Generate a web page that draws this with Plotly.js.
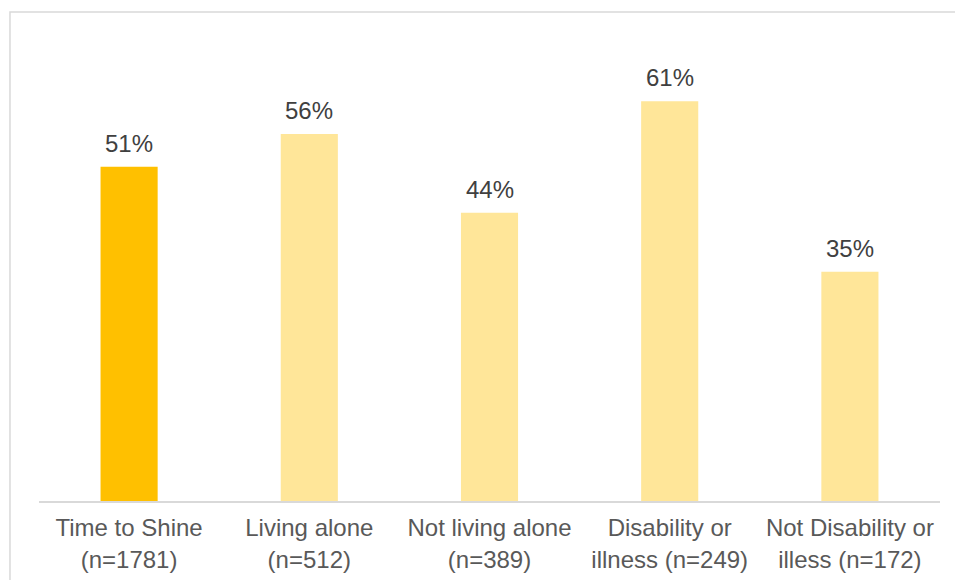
<!DOCTYPE html>
<html>
<head>
<meta charset="utf-8">
<script src="https://cdn.plot.ly/plotly-3.0.1.min.js"></script>
<style>html,body{margin:0;padding:0;background:#fff;}#chart{width:955px;height:580px;}</style>
</head>
<body>
<div id="chart"></div>
<script>
const categories = ["Time to Shine<br>(n=1781)", "Living alone<br>(n=512)", "Not living alone<br>(n=389)", "Disability or<br>illness (n=249)", "Not Disability or<br>illess (n=172)"];
const values = [51, 56, 44, 61, 35];
const barColors = ["#FFC000", "#FFE699", "#FFE699", "#FFE699", "#FFE699"];
const labels = values.map(v => v + "%");

const trace = {
  type: "bar",
  x: categories,
  y: values,
  marker: {color: barColors},
  hoverinfo: "skip"
};

const annotations = categories.map((c, i) => ({
  x: c, y: values[i], xref: "x", yref: "y",
  text: labels[i], showarrow: false,
  yanchor: "bottom", yshift: 8,
  font: {family: "Liberation Sans, Arial, sans-serif", size: 24, color: "#404040"}
}));

const layout = {
  width: 955, height: 580,
  margin: {l: 39, r: 15, t: 20, b: 79},
  paper_bgcolor: "#ffffff", plot_bgcolor: "#ffffff",
  showlegend: false,
  bargap: 0.683,
  font: {family: "Liberation Sans, Arial, sans-serif", size: 24, color: "#595959"},
  xaxis: {
    showgrid: false, zeroline: false, showline: true,
    linecolor: "#d9d9d9", linewidth: 1.5,
    ticks: "", tickfont: {size: 24, color: "#595959"},
    ticklabelstandoff: 5,
    fixedrange: true
  },
  yaxis: {
    range: [0, 73.4], visible: false, showgrid: false, zeroline: false,
    fixedrange: true
  },
  annotations: annotations,
  shapes: [{
    type: "rect", xref: "paper", yref: "paper",
    x0: -0.0322, x1: 1.03, y0: -0.2, y1: 1.0166,
    line: {color: "#d9d9d9", width: 1.5}, fillcolor: "rgba(0,0,0,0)", layer: "below"
  }]
};

Plotly.newPlot("chart", [trace], layout, {displayModeBar: false, staticPlot: true});
</script>
</body>
</html>
